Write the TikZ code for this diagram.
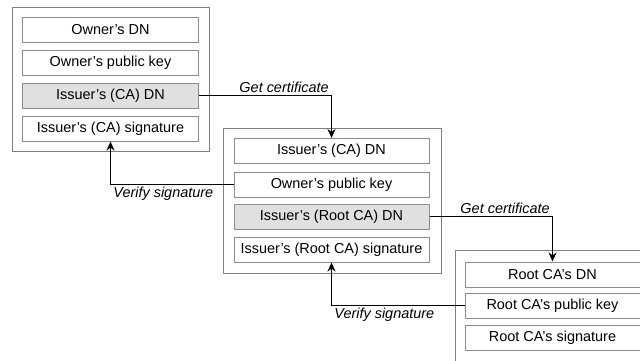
\documentclass[tikz,border=0pt]{standalone}
\usepackage{fontspec}
\setmainfont{Liberation Sans}
\usetikzlibrary{arrows.meta}

\begin{document}
\begin{tikzpicture}
[
x = 1bp, y = -1bp,
>={Stealth[length=9bp, width=8bp]},
field/.style = {draw = black!45, line width = 1bp, fill = white, inner sep = 0pt,
  minimum height = 25bp, font = \fontsize{14.5}{17}\selectfont},
shaded/.style = {field, fill = black!12},
cert/.style = {draw = black!50, line width = 1bp},
link/.style = {->, black, line width = 1.8bp},
tag/.style = {font = \fontsize{14.5}{17}\selectfont\itshape, inner sep = 2bp},
]

\clip (0,0) rectangle (640,360);
\useasboundingbox (0,0) rectangle (640,360);

\def\wone{175bp}
\def\wtwo{195bp}

% owner's certificate
\draw[cert] (12,7) rectangle (209,151);
\node (ODN) at (110.5, 29.5) [field, minimum width = \wone] {Owner's DN};
\node (OPK) at (110.5, 62.5) [field, minimum width = \wone] {Owner's public key};
\node (OIDN) at (110.5, 95.5) [shaded, minimum width = \wone] {Issuer's (CA) DN};
\node (OSig) at (110.5, 128.5) [field, minimum width = \wone] {Issuer's (CA) signature};

% CA's certificate
\draw[cert] (223,128) rectangle (441,273);
\node (CDN) at (331.5, 151) [field, minimum width = \wtwo] {Issuer's (CA) DN};
\node (CPK) at (331.5, 184.5) [field, minimum width = \wtwo] {Owner's public key};
\node (CIDN) at (331.5, 216.5) [shaded, minimum width = \wtwo] {Issuer's (Root CA) DN};
\node (CSig) at (331.5, 249.5) [field, minimum width = \wtwo] {Issuer's (Root CA) signature};

% root CA's certificate
\draw[cert] (455,250) rectangle (651,370);
\node (RDN) at (552.5, 274.5) [field, minimum width = \wone] {Root CA's DN};
\node (RPK) at (552.5, 305.5) [field, minimum width = \wone] {Root CA's public key};
\node (RSig) at (552.5, 337.5) [field, minimum width = \wone] {Root CA's signature};

\draw[link] (OIDN) -| (CDN) node [pos = 0.5, tag, above left] {Get certificate};
\draw[link] (CPK) -| (OSig) node [pos = 0.5, tag, below right] {Verify signature};
\draw[link] (CIDN) -| (RDN) node [pos = 0.5, tag, above left] {Get certificate};
\draw[link] (RPK) -| (CSig) node [pos = 0.5, tag, below right] {Verify signature};
\end{tikzpicture}
\end{document}
